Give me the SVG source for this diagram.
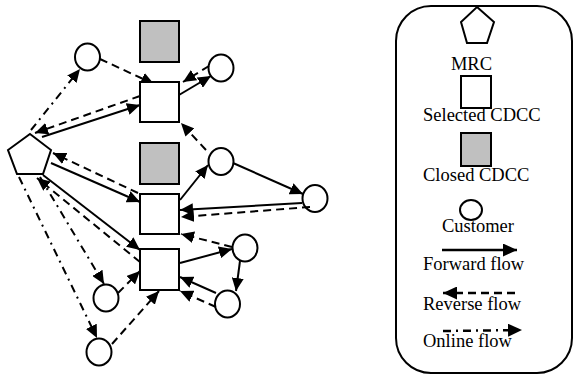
<svg xmlns="http://www.w3.org/2000/svg" width="574" height="374" viewBox="0 0 574 374">
  <style>
    .node { fill: #fff; stroke: #000; stroke-width: 2; }
    .closed { fill: #c0c0c0; stroke: #000; stroke-width: 2; }
    .fwd { fill: none; stroke: #000; stroke-width: 2; marker-end: url(#ah); }
    .rev { fill: none; stroke: #000; stroke-width: 2; stroke-dasharray: 8 5; marker-end: url(#ah); }
    .onl { fill: none; stroke: #000; stroke-width: 2; stroke-dasharray: 8 5 2 5; marker-end: url(#ah); }
    .lgd { fill: none; stroke: #000; stroke-width: 2.5; marker-end: url(#ahL); }
    .label { font-family: "Liberation Serif", "Times New Roman", serif; font-size: 18.5px; fill: #000; }
  </style>
  <defs>
    <marker id="ah" viewBox="0 0 13 12" refX="13" refY="6" markerWidth="13" markerHeight="12" orient="auto" markerUnits="userSpaceOnUse">
      <path d="M0,0 L13,6 L0,12 z" fill="#000"/>
    </marker>
    <marker id="ahL" viewBox="0 0 14 13" refX="14" refY="6.5" markerWidth="14" markerHeight="13" orient="auto" markerUnits="userSpaceOnUse">
      <path d="M0,0 L14,6.5 L0,13 z" fill="#000"/>
    </marker>
  </defs>

  <!-- MRC and customers -->
  <g id="mrc"><polygon class="node" points="30,134 51,150 43,174 17,174 8,150"/></g>
  <g id="cust1"><ellipse class="node" cx="87.5" cy="57" rx="12.5" ry="13.5"/></g>
  <g id="cust2"><ellipse class="node" cx="221" cy="68" rx="12.5" ry="13.5"/></g>
  <g id="cust3"><ellipse class="node" cx="221" cy="161.5" rx="12.5" ry="13.5"/></g>
  <g id="cust4"><ellipse class="node" cx="315" cy="198.5" rx="12.5" ry="13.5"/></g>
  <g id="cust5"><ellipse class="node" cx="245" cy="248" rx="12.5" ry="13.5"/></g>
  <g id="cust6"><ellipse class="node" cx="227.5" cy="304" rx="12.5" ry="13.5"/></g>
  <g id="cust7"><ellipse class="node" cx="106" cy="298" rx="12.5" ry="13.5"/></g>
  <g id="cust8"><ellipse class="node" cx="99" cy="352" rx="12.5" ry="13.5"/></g>

  <!-- flows -->
  <g id="connectors">
    <line class="onl" x1="31" y1="130" x2="80" y2="69"/>
    <line class="rev" x1="100" y1="59" x2="154" y2="84"/>
    <line class="fwd" x1="179" y1="95" x2="211" y2="76"/>
    <line class="rev" x1="209" y1="66" x2="183" y2="82"/>
    <line class="fwd" x1="42" y1="137" x2="140" y2="105"/>
    <line class="rev" x1="140" y1="96" x2="35" y2="133"/>
    <line class="rev" x1="206" y1="150" x2="181" y2="123"/>
    <line class="fwd" x1="180" y1="200" x2="208" y2="165"/>
    <line class="fwd" x1="233" y1="163" x2="303" y2="194"/>
    <line class="fwd" x1="302" y1="203" x2="180" y2="210"/>
    <line class="rev" x1="310" y1="207" x2="181" y2="217"/>
    <line class="fwd" x1="51" y1="163" x2="140" y2="202"/>
    <line class="rev" x1="138" y1="193" x2="53" y2="153"/>
    <line class="fwd" x1="43" y1="175" x2="140" y2="250"/>
    <line class="rev" x1="140" y1="262" x2="37" y2="178"/>
    <line class="onl" x1="40" y1="177" x2="104" y2="284"/>
    <line class="onl" x1="19" y1="177" x2="97" y2="338"/>
    <line class="rev" x1="118" y1="293" x2="140" y2="271"/>
    <line class="rev" x1="112" y1="344" x2="159" y2="291"/>
    <line class="fwd" x1="180" y1="263" x2="232" y2="249"/>
    <line class="rev" x1="232" y1="247" x2="181" y2="234"/>
    <line class="fwd" x1="240" y1="261" x2="236" y2="291"/>
    <line class="fwd" x1="216" y1="293" x2="180" y2="277"/>
    <line class="rev" x1="216" y1="307" x2="180" y2="291"/>
  </g>

  <!-- CDCC sites -->
  <g id="closed1"><rect class="closed" x="140" y="21" width="39" height="41"/></g>
  <g id="selected1"><rect class="node" x="140" y="82" width="39" height="40"/></g>
  <g id="closed2"><rect class="closed" x="140" y="143" width="39" height="41"/></g>
  <g id="selected2"><rect class="node" x="140" y="194" width="39" height="40"/></g>
  <g id="selected3"><rect class="node" x="140" y="249" width="39" height="41"/></g>

  <!-- key -->
  <g id="legend">
    <rect x="396" y="6" width="176" height="367" rx="35" ry="35" fill="#fff" stroke="#000" stroke-width="2"/>
    <polygon class="node" points="477,7 494,22 487,43 467,43 461,22"/>
    <text class="label" x="471.5" y="70" text-anchor="middle">MRC</text>
    <rect class="node" x="461" y="76" width="30" height="32"/>
    <text class="label" x="423" y="121">Selected CDCC</text>
    <rect class="closed" x="461" y="133" width="30" height="33"/>
    <text class="label" x="423" y="181">Closed CDCC</text>
    <ellipse class="node" cx="471" cy="210" rx="11" ry="10"/>
    <text class="label" x="442" y="232">Customer</text>
    <line class="lgd" x1="442" y1="250" x2="517" y2="250"/>
    <text class="label" x="423" y="270">Forward flow</text>
    <line class="lgd" x1="515" y1="293" x2="443" y2="293" stroke-dasharray="8 5"/>
    <text class="label" x="423" y="310">Reverse flow</text>
    <line class="lgd" x1="443" y1="331" x2="522" y2="330" stroke-dasharray="8 5 2 5"/>
    <text class="label" x="423" y="347">Online flow</text>
  </g>
</svg>
